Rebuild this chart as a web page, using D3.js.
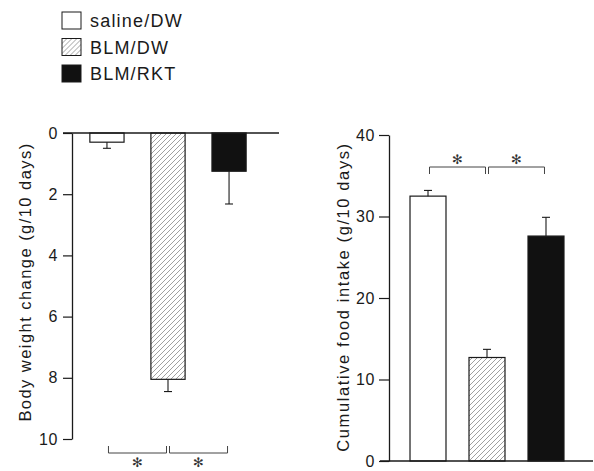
<!DOCTYPE html>
<html>
<head>
<meta charset="utf-8">
<script src="https://cdn.jsdelivr.net/npm/d3@7"></script>
<style>
  body { margin: 0; background: #fff; }
  svg { display: block; font-family: "Liberation Sans", Arial, Helvetica, sans-serif; }
</style>
</head>
<body>
<div id="chart"></div>
<script>
// groups shown in both panels
const groups = ['saline/DW', 'BLM/DW', 'BLM/RKT'];

// left panel: body weight change (drawn downward from 0)
const weightLoss = [0.3, 8.05, 1.25];
const weightErr = [0.2, 0.4, 1.07];
const weightTicks = [0, 2, 4, 6, 8, 10];

// right panel: cumulative food intake
const foodIntake = [32.5, 12.7, 27.6];
const foodErr = [0.7, 1.0, 2.3];
const foodTicks = [0, 10, 20, 30, 40];

// significance pairs (index into groups)
const sigPairs = [[0, 1], [1, 2]];

const width = 594, height = 471;
const ink = '#1a1a1a';

const svg = d3.select('#chart')
  .append('svg')
  .attr('width', width)
  .attr('height', height);

// hatch pattern for BLM/DW
svg.append('defs')
  .append('pattern')
  .attr('id', 'hatch')
  .attr('patternUnits', 'userSpaceOnUse')
  .attr('width', 5)
  .attr('height', 5)
  .append('path')
  .attr('d', 'M-1,1 l2,-2 M0,5 l5,-5 M4,6 l2,-2')
  .attr('stroke', '#777')
  .attr('stroke-width', 0.7);

const fills = ['#fff', 'url(#hatch)', '#111'];

// ---------- legend ----------
const legend = svg.append('g')
  .selectAll('g')
  .data(groups)
  .join('g')
  .attr('transform', (d, i) => `translate(62,${12 + i * 26.5})`);

legend.append('rect')
  .attr('width', 19)
  .attr('height', 17)
  .attr('fill', (d, i) => fills[i])
  .attr('stroke', ink)
  .attr('stroke-width', 1);

legend.append('text')
  .attr('x', 28)
  .attr('y', 15)
  .style('font-size', '18px')
  .style('letter-spacing', '1.2px')
  .attr('fill', ink)
  .text(d => d);

// ---------- left panel ----------
const xL = d3.scaleBand()
  .domain(groups)
  .range([63, 273])
  .padding(0.44);

const yL = d3.scaleLinear()
  .domain([0, 10])
  .range([133, 439]);

// bars
svg.append('g')
  .selectAll('rect')
  .data(groups)
  .join('rect')
  .attr('x', d => xL(d))
  .attr('y', yL(0))
  .attr('width', xL.bandwidth())
  .attr('height', (d, i) => yL(weightLoss[i]) - yL(0))
  .attr('fill', (d, i) => fills[i])
  .attr('stroke', ink)
  .attr('stroke-width', 1.2);

// error bars (downward)
const errL = svg.append('g').attr('stroke', ink).attr('stroke-width', 1.1);
errL.selectAll('line.v')
  .data(groups)
  .join('line')
  .attr('class', 'v')
  .attr('x1', d => xL(d) + xL.bandwidth() / 2)
  .attr('x2', d => xL(d) + xL.bandwidth() / 2)
  .attr('y1', (d, i) => yL(weightLoss[i]))
  .attr('y2', (d, i) => yL(weightLoss[i] + weightErr[i]));
errL.selectAll('line.c')
  .data(groups)
  .join('line')
  .attr('class', 'c')
  .attr('x1', d => xL(d) + xL.bandwidth() / 2 - 4)
  .attr('x2', d => xL(d) + xL.bandwidth() / 2 + 4)
  .attr('y1', (d, i) => yL(weightLoss[i] + weightErr[i]))
  .attr('y2', (d, i) => yL(weightLoss[i] + weightErr[i]));

// zero line across the top
svg.append('line')
  .attr('x1', 63).attr('x2', 279)
  .attr('y1', yL(0)).attr('y2', yL(0))
  .attr('stroke', ink)
  .attr('stroke-width', 1.3);

// y axis
const axisL = svg.append('g')
  .attr('transform', 'translate(72,0)')
  .call(d3.axisLeft(yL).tickValues(weightTicks).tickSize(9).tickSizeOuter(0).tickPadding(5));
axisL.select('.domain').attr('stroke', ink).attr('stroke-width', 1.3);
axisL.selectAll('line').attr('stroke', ink).attr('stroke-width', 1.2);
axisL.selectAll('text')
  .attr('fill', ink)
  .style('font-size', '16px')
  .style('letter-spacing', '0.6px')
  .style('font-family', '"Liberation Sans", Arial, sans-serif');

svg.append('text')
  .attr('transform', 'translate(31,282) rotate(-90)')
  .attr('text-anchor', 'middle')
  .style('font-size', '16.5px')
  .style('letter-spacing', '1.45px')
  .attr('fill', ink)
  .text('Body weight change (g/10 days)');

// significance brackets below
const brL = svg.append('g').attr('fill', 'none').attr('stroke', '#444').attr('stroke-width', 1);
brL.selectAll('path')
  .data(sigPairs)
  .join('path')
  .attr('d', p => {
    const a = xL(groups[p[0]]) + xL.bandwidth() / 2 + 1.5;
    const b = xL(groups[p[1]]) + xL.bandwidth() / 2 - 1.5;
    return `M${a},${yL(10) + 7}V${yL(10) + 14}H${b}V${yL(10) + 7}`;
  });
svg.append('g')
  .selectAll('text')
  .data(sigPairs)
  .join('text')
  .attr('x', p => (xL(groups[p[0]]) + xL(groups[p[1]])) / 2 + xL.bandwidth() / 2)
  .attr('y', yL(10) + 28)
  .attr('text-anchor', 'middle')
  .style('font-size', '13px')
  .style('font-family', '"DejaVu Sans", sans-serif')
  .attr('fill', '#333')
  .text('✻');

// ---------- right panel ----------
const xR = d3.scaleBand()
  .domain(groups)
  .range([387, 587])
  .padding(0.39);

const yR = d3.scaleLinear()
  .domain([0, 40])
  .range([461, 135]);

svg.append('g')
  .selectAll('rect')
  .data(groups)
  .join('rect')
  .attr('x', d => xR(d))
  .attr('y', (d, i) => yR(foodIntake[i]))
  .attr('width', xR.bandwidth())
  .attr('height', (d, i) => yR(0) - yR(foodIntake[i]))
  .attr('fill', (d, i) => fills[i])
  .attr('stroke', ink)
  .attr('stroke-width', 1.2);

const errR = svg.append('g').attr('stroke', ink).attr('stroke-width', 1.1);
errR.selectAll('line.v')
  .data(groups)
  .join('line')
  .attr('class', 'v')
  .attr('x1', d => xR(d) + xR.bandwidth() / 2)
  .attr('x2', d => xR(d) + xR.bandwidth() / 2)
  .attr('y1', (d, i) => yR(foodIntake[i]))
  .attr('y2', (d, i) => yR(foodIntake[i] + foodErr[i]));
errR.selectAll('line.c')
  .data(groups)
  .join('line')
  .attr('class', 'c')
  .attr('x1', d => xR(d) + xR.bandwidth() / 2 - 4)
  .attr('x2', d => xR(d) + xR.bandwidth() / 2 + 4)
  .attr('y1', (d, i) => yR(foodIntake[i] + foodErr[i]))
  .attr('y2', (d, i) => yR(foodIntake[i] + foodErr[i]));

// baseline
svg.append('line')
  .attr('x1', 380).attr('x2', 593)
  .attr('y1', yR(0)).attr('y2', yR(0))
  .attr('stroke', ink)
  .attr('stroke-width', 1.3);

const axisR = svg.append('g')
  .attr('transform', 'translate(389,0)')
  .call(d3.axisLeft(yR).tickValues(foodTicks).tickSize(10).tickSizeOuter(0).tickPadding(4));
axisR.select('.domain').attr('stroke', ink).attr('stroke-width', 1.3);
axisR.selectAll('line').attr('stroke', ink).attr('stroke-width', 1.2);
axisR.selectAll('text')
  .attr('fill', ink)
  .style('font-size', '16px')
  .style('letter-spacing', '0.6px')
  .style('font-family', '"Liberation Sans", Arial, sans-serif');

svg.append('text')
  .attr('transform', 'translate(349,297) rotate(-90)')
  .attr('text-anchor', 'middle')
  .style('font-size', '16.5px')
  .style('letter-spacing', '1.6px')
  .attr('fill', ink)
  .text('Cumulative food intake (g/10 days)');

// significance brackets above
const brR = svg.append('g').attr('fill', 'none').attr('stroke', '#444').attr('stroke-width', 1);
brR.selectAll('path')
  .data(sigPairs)
  .join('path')
  .attr('d', p => {
    const a = xR(groups[p[0]]) + xR.bandwidth() / 2 + 1.5;
    const b = xR(groups[p[1]]) + xR.bandwidth() / 2 - 1.5;
    return `M${a},${yR(40) + 39}V${yR(40) + 32}H${b}V${yR(40) + 39}`;
  });
svg.append('g')
  .selectAll('text')
  .data(sigPairs)
  .join('text')
  .attr('x', p => (xR(groups[p[0]]) + xR(groups[p[1]])) / 2 + xR.bandwidth() / 2)
  .attr('y', yR(40) + 29)
  .attr('text-anchor', 'middle')
  .style('font-size', '13px')
  .style('font-family', '"DejaVu Sans", sans-serif')
  .attr('fill', '#333')
  .text('✻');
</script>
</body>
</html>
